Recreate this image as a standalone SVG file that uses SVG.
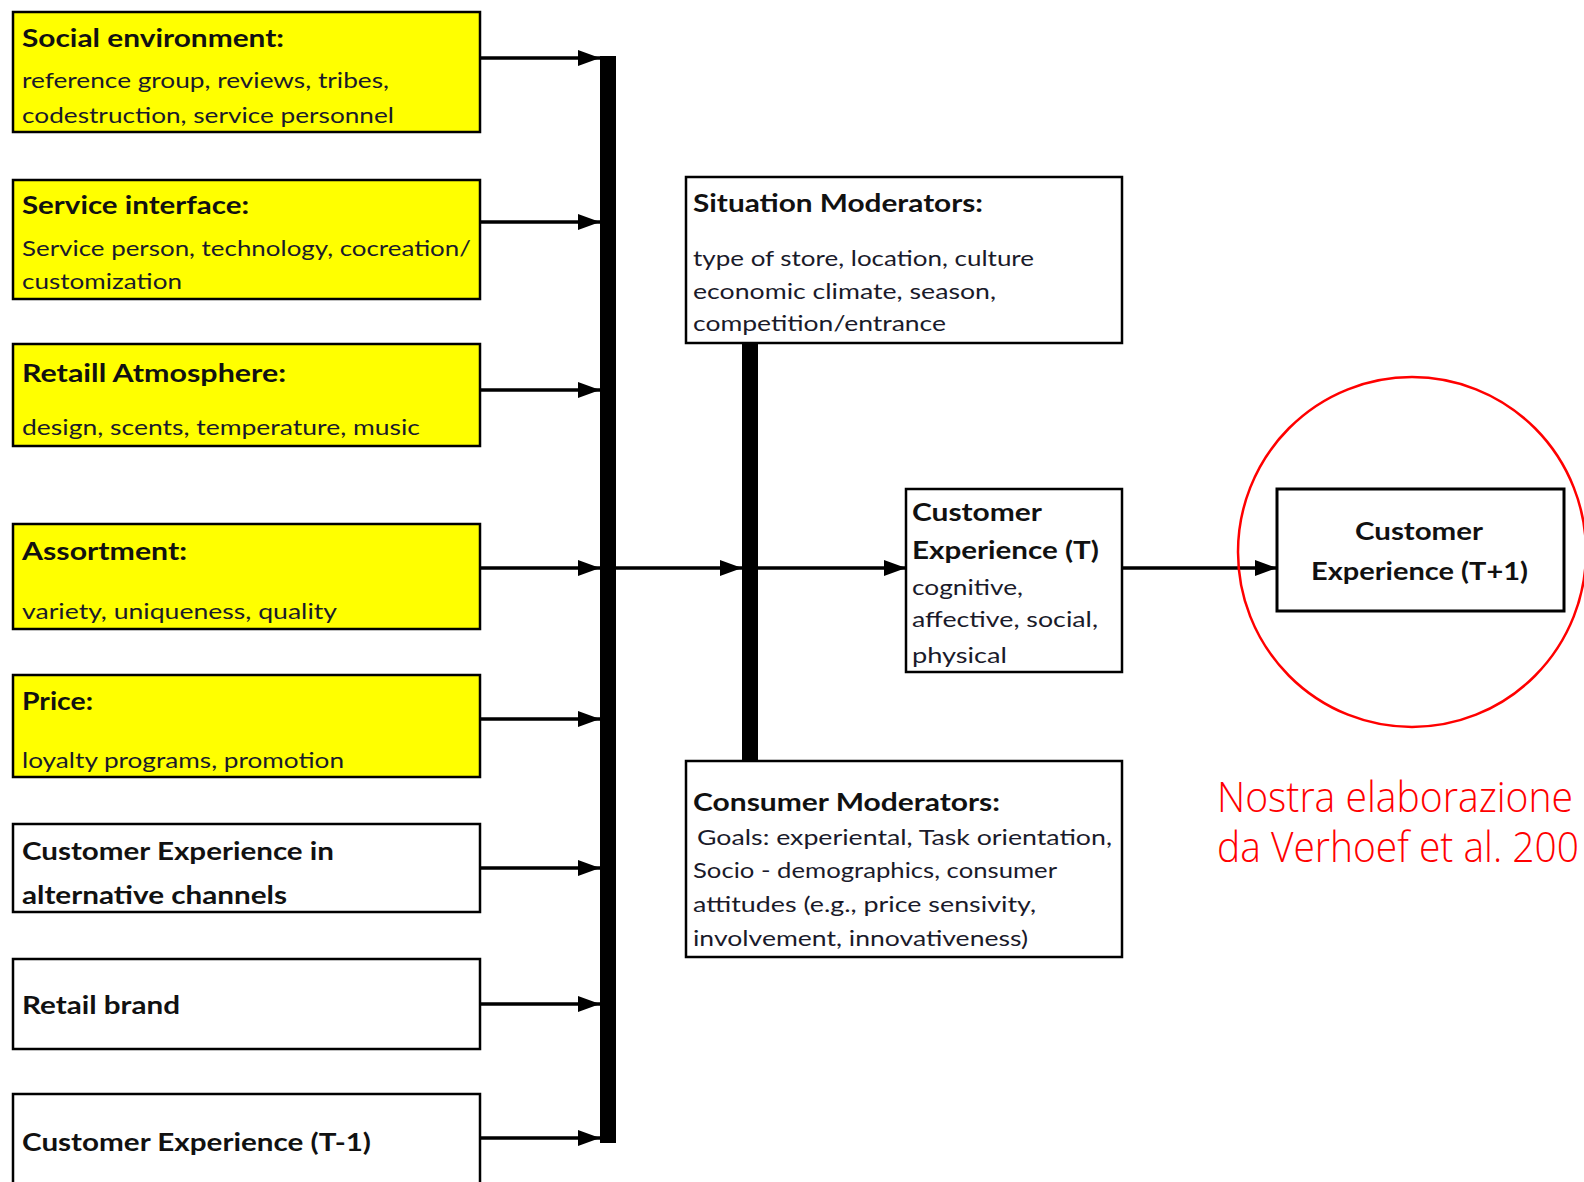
<svg xmlns="http://www.w3.org/2000/svg" width="1584" height="1182" viewBox="0 0 1584 1182">
<style>
.box{stroke:#000;stroke-width:2.5}
.y{fill:#ffff00}
.w{fill:#fff}
.t{font-family:Lato,"Liberation Sans",sans-serif;font-weight:bold;font-size:24px;fill:#111}
.b{font-family:Lato,"Liberation Sans",sans-serif;font-size:22px;fill:#1a1a2a}
.c{stroke:#000;stroke-width:3.5;fill:none}
.red{font-family:"Open Sans","Noto Sans",sans-serif;font-weight:300;font-size:42px;fill:#ff0000}
</style>
<defs>
<marker id="ah" markerUnits="userSpaceOnUse" markerWidth="24" markerHeight="18" refX="22" refY="9" orient="auto">
<path d="M0,1 L22,9 L0,17 Z" fill="#000"/>
</marker>
</defs>
<rect width="1584" height="1182" fill="#fff"/>

<g id="social">
<rect class="box y" x="13" y="12" width="467" height="120"/>
<text class="t" x="22" y="47" textLength="262" lengthAdjust="spacingAndGlyphs">Social environment:</text>
<text class="b" x="22" y="88" textLength="367" lengthAdjust="spacingAndGlyphs">reference group, reviews, tribes,</text>
<text class="b" x="22" y="123" textLength="372" lengthAdjust="spacingAndGlyphs">codestruction, service personnel</text>
</g>
<g id="service">
<rect class="box y" x="13" y="180" width="467" height="119"/>
<text class="t" x="22" y="214" textLength="227" lengthAdjust="spacingAndGlyphs">Service interface:</text>
<text class="b" x="22" y="256" textLength="449" lengthAdjust="spacingAndGlyphs">Service person, technology, cocreation/</text>
<text class="b" x="22" y="289" textLength="160" lengthAdjust="spacingAndGlyphs">customization</text>
</g>
<g id="atmosphere">
<rect class="box y" x="13" y="344" width="467" height="102"/>
<text class="t" x="22" y="382" textLength="264" lengthAdjust="spacingAndGlyphs">Retaill Atmosphere:</text>
<text class="b" x="22" y="435" textLength="398" lengthAdjust="spacingAndGlyphs">design, scents, temperature, music</text>
</g>
<g id="assortment">
<rect class="box y" x="13" y="524" width="467" height="105"/>
<text class="t" x="22" y="560" textLength="165" lengthAdjust="spacingAndGlyphs">Assortment:</text>
<text class="b" x="22" y="619" textLength="315" lengthAdjust="spacingAndGlyphs">variety, uniqueness, quality</text>
</g>
<g id="price">
<rect class="box y" x="13" y="675" width="467" height="102"/>
<text class="t" x="22" y="710" textLength="71" lengthAdjust="spacingAndGlyphs">Price:</text>
<text class="b" x="22" y="768" textLength="322" lengthAdjust="spacingAndGlyphs">loyalty programs, promotion</text>
</g>
<g id="altchannels">
<rect class="box w" x="13" y="824" width="467" height="88"/>
<text class="t" x="22" y="860" textLength="312" lengthAdjust="spacingAndGlyphs">Customer Experience in</text>
<text class="t" x="22" y="904" textLength="265" lengthAdjust="spacingAndGlyphs">alternative channels</text>
</g>
<g id="brand">
<rect class="box w" x="13" y="959" width="467" height="90"/>
<text class="t" x="22" y="1014" textLength="158" lengthAdjust="spacingAndGlyphs">Retail brand</text>
</g>
<g id="cetminus1">
<rect class="box w" x="13" y="1094" width="467" height="100"/>
<text class="t" x="22" y="1151" textLength="349" lengthAdjust="spacingAndGlyphs">Customer Experience (T-1)</text>
</g>
<g id="situation">
<rect class="box w" x="686" y="177" width="436" height="166"/>
<text class="t" x="693" y="212" textLength="290" lengthAdjust="spacingAndGlyphs">Situation Moderators:</text>
<text class="b" x="693" y="266" textLength="341" lengthAdjust="spacingAndGlyphs">type of store, location, culture</text>
<text class="b" x="693" y="299" textLength="303" lengthAdjust="spacingAndGlyphs">economic climate, season,</text>
<text class="b" x="693" y="331" textLength="253" lengthAdjust="spacingAndGlyphs">competition/entrance</text>
</g>
<g id="cet">
<rect class="box w" x="906" y="489" width="216" height="183"/>
<text class="t" x="912" y="521" textLength="130" lengthAdjust="spacingAndGlyphs">Customer</text>
<text class="t" x="912" y="559" textLength="187" lengthAdjust="spacingAndGlyphs">Experience (T)</text>
<text class="b" x="912" y="595" textLength="111" lengthAdjust="spacingAndGlyphs">cognitive,</text>
<text class="b" x="912" y="627" textLength="186" lengthAdjust="spacingAndGlyphs">affective, social,</text>
<text class="b" x="912" y="663" textLength="95" lengthAdjust="spacingAndGlyphs">physical</text>
</g>
<g id="consumer">
<rect class="box w" x="686" y="761" width="436" height="196"/>
<text class="t" x="693" y="811" textLength="307" lengthAdjust="spacingAndGlyphs">Consumer Moderators:</text>
<text class="b" x="697" y="845" textLength="415" lengthAdjust="spacingAndGlyphs">Goals: experiental, Task orientation,</text>
<text class="b" x="693" y="878" textLength="364" lengthAdjust="spacingAndGlyphs">Socio - demographics, consumer</text>
<text class="b" x="693" y="912" textLength="343" lengthAdjust="spacingAndGlyphs">attitudes (e.g., price sensivity,</text>
<text class="b" x="693" y="946" textLength="335" lengthAdjust="spacingAndGlyphs">involvement, innovativeness)</text>
</g>
<g id="cetplus1">
<rect class="box w" x="1277" y="489" width="287" height="122" style="stroke-width:3"/>
<text class="t" x="1355" y="540" textLength="128" lengthAdjust="spacingAndGlyphs">Customer</text>
<text class="t" x="1311" y="580" textLength="217" lengthAdjust="spacingAndGlyphs">Experience (T+1)</text>
</g>

<g id="connectors">
<rect x="600" y="56" width="16" height="1087" fill="#000"/>
<rect x="742" y="343" width="16" height="418" fill="#000"/>
<line class="c" x1="480" y1="58" x2="600" y2="58" marker-end="url(#ah)"/>
<line class="c" x1="480" y1="222" x2="600" y2="222" marker-end="url(#ah)"/>
<line class="c" x1="480" y1="390" x2="600" y2="390" marker-end="url(#ah)"/>
<line class="c" x1="480" y1="568" x2="600" y2="568" marker-end="url(#ah)"/>
<line class="c" x1="480" y1="719" x2="600" y2="719" marker-end="url(#ah)"/>
<line class="c" x1="480" y1="868" x2="600" y2="868" marker-end="url(#ah)"/>
<line class="c" x1="480" y1="1004" x2="600" y2="1004" marker-end="url(#ah)"/>
<line class="c" x1="480" y1="1138" x2="600" y2="1138" marker-end="url(#ah)"/>
<line class="c" x1="616" y1="568" x2="742" y2="568" marker-end="url(#ah)"/>
<line class="c" x1="758" y1="568" x2="906" y2="568" marker-end="url(#ah)"/>
<line class="c" x1="1122" y1="568" x2="1277" y2="568" marker-end="url(#ah)"/>
</g>

<g id="highlight">
<ellipse cx="1412" cy="552" rx="174" ry="175" fill="none" stroke="#ff0000" stroke-width="2.5"/>
<text class="red"><tspan x="1217" y="812" textLength="356" lengthAdjust="spacingAndGlyphs">Nostra elaborazione</tspan><tspan x="1217" y="862" textLength="362" lengthAdjust="spacingAndGlyphs">da Verhoef et al. 200</tspan></text>
</g>
</svg>
